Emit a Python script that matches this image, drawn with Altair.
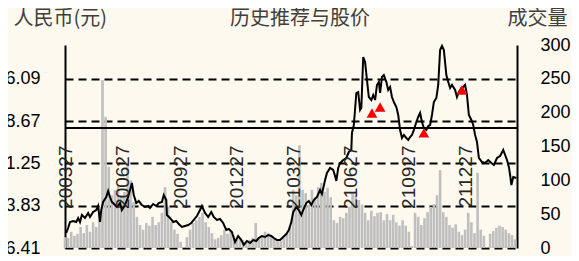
import altair as alt
import pandas as pd

BASE = pd.Timestamp("2020-03-27")

# ---- data ----
price_day = [2, 5, 8, 13, 18, 21, 24, 27, 32, 37, 40, 45, 50, 53, 56, 58, 61, 66, 69, 72,
             75, 80, 83, 88, 91, 96, 101, 104, 107, 110, 114, 118, 123, 128, 133, 136, 141, 146, 150, 155,
             158, 162, 163, 168, 173, 178, 182, 187, 192, 197, 202, 206, 211, 216, 219, 224, 229, 234, 238, 243,
             248, 253, 258, 262, 267, 272, 277, 282, 286, 291, 296, 301, 306, 310, 315, 320, 325, 330, 334, 339,
             344, 349, 354, 358, 362, 365, 370, 374, 378, 381, 386, 390, 394, 398, 403, 408, 411, 416, 419, 424,
             429, 432, 434, 437, 440, 445, 450, 454, 458, 459, 462, 466, 469, 472, 474, 477, 480, 483, 486, 490,
             493, 496, 499, 502, 504, 507, 510, 514, 517, 520, 523, 526, 530, 533, 536, 539, 542, 546, 549, 552,
             555, 558, 562, 565, 568, 571, 574, 578, 581, 584, 587, 590, 594, 597, 600, 603, 606, 610, 613, 616,
             619, 624, 627, 630, 634, 637, 640, 643, 646, 650, 653, 656, 659, 662, 667, 672, 677, 682, 686, 691,
             696, 701, 704, 707, 710, 712, 714, 717, 722]
price_val = [19.04, 19.92, 20.98, 21.15, 20.98, 21.68, 20.98, 22.21, 21.68, 22.56, 21.85, 22.73, 23.08, 23.79, 20.98, 23.08, 24.49, 25.37, 26.42, 25.37,
             24.49, 23.96, 23.61, 24.31, 23.08, 23.96, 25.37, 26.60, 27.83, 25.72, 24.31, 24.66, 23.96, 23.61, 23.79, 23.43, 24.14, 23.79, 24.31, 24.49,
             25.72, 24.84, 22.21, 21.68, 20.98, 21.15, 20.62, 20.10, 20.27, 20.45, 20.80, 21.33, 22.03, 23.08, 23.79, 22.56, 21.85, 22.73, 21.85, 21.33,
             21.50, 20.80, 19.57, 19.75, 19.22, 17.46, 18.52, 17.81, 16.94, 17.64, 17.29, 17.81, 17.64, 18.17, 18.52, 18.34, 18.69, 18.52, 18.17, 17.81,
             17.81, 18.34, 18.87, 19.57, 20.98, 22.73, 23.61, 23.08, 22.21, 23.08, 24.31, 24.66, 23.96, 24.84, 25.37, 26.60, 25.89, 28.35, 29.58, 30.46,
             30.11, 29.05, 28.18, 30.46, 31.34, 31.86, 32.22, 33.27, 33.62, 36.61, 38.01, 43.63, 43.81, 40.65, 41.00, 49.95, 49.08, 45.91, 42.93, 42.40,
             43.28, 42.40, 45.04, 45.56, 43.63, 46.44, 46.79, 45.56, 44.16, 44.68, 42.93, 42.05, 41.17, 39.77, 37.13, 35.73, 36.25, 35.73, 35.38, 35.90,
             36.25, 37.13, 38.54, 39.42, 40.12, 38.54, 37.48, 37.13, 37.83, 38.01, 39.77, 42.05, 42.75, 45.04, 51.18, 51.90, 51.18, 46.79, 45.56, 44.51,
             45.04, 44.16, 42.93, 43.81, 44.51, 44.68, 45.04, 43.28, 39.77, 38.89, 38.01, 36.25, 35.03, 32.22, 31.51, 31.34, 31.86, 31.34, 30.99, 32.22,
             32.57, 33.62, 32.74, 31.86, 30.64, 29.23, 27.47, 28.88, 28.70]

vol_step_days = 5
vol_val = [16, 15, 24, 18, 21, 31, 22, 34, 24, 38,
           31, 53, 248, 194, 120, 78, 86, 93, 78, 83,
           123, 100, 68, 46, 34, 27, 37, 33, 46, 34,
           38, 52, 90, 61, 38, 27, 21, 9, 1, 16,
           27, 37, 41, 46, 52, 38, 31, 22, 13, 15,
           19, 27, 21, 25, 18, 12, 16, 12, 9, 12,
           15, 37, 16, 19, 24, 22, 18, 15, 12, 10,
           15, 21, 30, 86, 78, 152, 86, 81, 64, 86,
           75, 90, 96, 83, 89, 75, 41, 37, 46, 44,
           52, 61, 81, 78, 71, 64, 52, 41, 55, 47,
           52, 53, 41, 50, 41, 49, 38, 33, 41, 33,
           24, 3, 52, 46, 34, 44, 53, 61, 65, 78,
           115, 53, 46, 34, 30, 35, 24, 19, 27, 52,
           38, 22, 111, 27, 18, 1, 21, 25, 30, 33,
           31, 27, 22, 19, 13]

rec_day = [491, 504, 574, 635]
rec_price = [40.12, 41.17, 36.61, 44.16]
ref_price = [37.48]

left_ticks = [16.41, 23.83, 31.25, 38.67, 46.09]
right_ticks = [0, 50, 100, 150, 200, 250, 300]
x_tick_dates = [(2020, 3, 27), (2020, 6, 27), (2020, 9, 27), (2020, 12, 27),
                (2021, 3, 27), (2021, 6, 27), (2021, 9, 27), (2021, 12, 27)]

title_text = "历史推荐与股价"
left_title = "人民币(元)"
right_title = "成交量"


def to_date(d):
    return (BASE + pd.Timedelta(days=d)).strftime("%Y-%m-%dT00:00:00")


price_df = pd.DataFrame({"date": [to_date(d) for d in price_day], "price": price_val})
vol_df = pd.DataFrame({"date": [to_date(i * vol_step_days) for i in range(len(vol_val))], "vol": vol_val})
rec_df = pd.DataFrame({"date": [to_date(d) for d in rec_day], "price": rec_price})
ref_df = pd.DataFrame({"price": ref_price})

BG = "#FDF9EE"
NUM_FONT = "Liberation Sans"
CJK_FONT = "Noto Sans CJK SC"

x_scale = alt.Scale(domain=[alt.DateTime(year=2020, month=3, date=27),
                            alt.DateTime(year=2022, month=3, date=20)], nice=False, padding=0)
price_scale = alt.Scale(domain=[16.41, 52.06], nice=False, zero=False)
vol_scale = alt.Scale(domain=[0, 300], nice=False)

x_axis = alt.Axis(orient="bottom", values=[alt.DateTime(year=y, month=m, date=d) for y, m, d in x_tick_dates],
                  format="%y%m%d", labelAngle=270, labelFontSize=19, labelFont=NUM_FONT,
                  labelColor="#262626", ticks=False, domain=False, grid=False, offset=-103,
                  labelPadding=0, labelOverlap=False, labelFlush=False, labelBound=False,
                  title=None, zindex=1)

left_axis = alt.Axis(orient="left", values=left_ticks, format=".2f", grid=True,
                     gridDash=[8, 5], gridColor="black", gridWidth=2,
                     domainColor="black", domainWidth=2, ticks=False,
                     labelFontSize=18, labelFont=NUM_FONT, labelColor="black", labelPadding=25,
                     title=left_title, titleAngle=0, titleX=-52, titleY=-27,
                     titleAlign="left", titleBaseline="middle", titleFont=CJK_FONT,
                     titleFontSize=20, titleFontWeight="normal", titleColor="#404040")

right_axis = alt.Axis(orient="right", values=right_ticks, grid=False, domainColor="black",
                      domainWidth=2, ticks=False, labelPadding=23, labelFontSize=18,
                      labelFont=NUM_FONT, labelColor="black",
                      title=right_title, titleAngle=0, titleX=50, titleY=-27,
                      titleAlign="right", titleBaseline="middle", titleFont=CJK_FONT,
                      titleFontSize=20, titleFontWeight="normal", titleColor="#404040")

bars = alt.Chart(vol_df).mark_bar(color="#BFBFBF", width=2.6).encode(
    x=alt.X("date:T", scale=x_scale, axis=x_axis),
    y=alt.Y("vol:Q", scale=vol_scale, axis=right_axis),
)

line = alt.Chart(price_df).mark_line(color="black", strokeWidth=2).encode(
    x=alt.X("date:T", scale=x_scale, axis=x_axis),
    y=alt.Y("price:Q", scale=price_scale, axis=left_axis),
)

ref_rule = alt.Chart(ref_df).mark_rule(color="black", strokeWidth=2).encode(
    y=alt.Y("price:Q", scale=price_scale, axis=left_axis),
)

tri = alt.Chart(rec_df).mark_point(shape="triangle-up", filled=True, color="#FF0000",
                                   size=115, opacity=1).encode(
    x=alt.X("date:T", scale=x_scale, axis=x_axis),
    y=alt.Y("price:Q", scale=price_scale, axis=left_axis),
)

price_layer = alt.layer(line, ref_rule, tri)

chart = alt.layer(bars, price_layer).resolve_scale(y="independent").properties(
    width=452, height=203,
    title=alt.TitleParams(title_text, font=CJK_FONT, fontSize=20, fontWeight="normal",
                          color="#404040", anchor="middle", dx=9, dy=21, offset=0),
    autosize=alt.AutoSizeParams(type="none"),
    padding={"left": 57, "top": 37, "right": 54, "bottom": 8},
    background=BG,
).configure_view(stroke=None)

chart.save("out.html", embed_options={"renderer": "svg", "actions": False,
                                      "defaultStyle": ".vega-embed svg{display:block}"})
